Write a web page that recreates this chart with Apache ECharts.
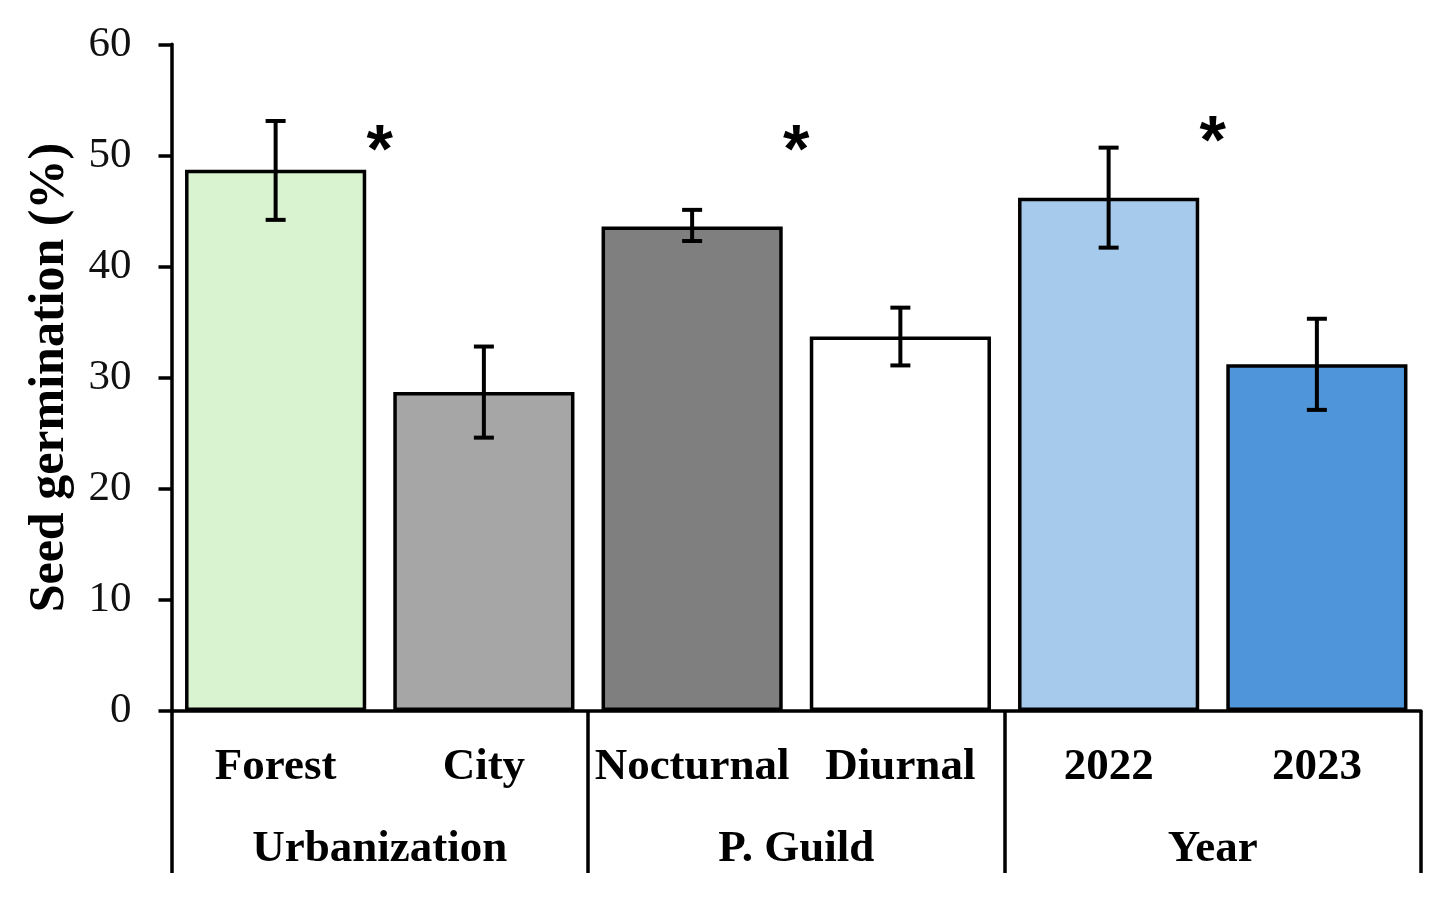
<!DOCTYPE html>
<html>
<head>
<meta charset="utf-8">
<script src="https://cdn.jsdelivr.net/npm/echarts@6/dist/echarts.min.js"></script>
<style>
html,body{margin:0;padding:0;background:#fff;}
#chart{width:1449px;height:915px;}
</style>
</head>
<body>
<div id="chart"></div>
<script>
// ---- data ----
var categories = ['Forest', 'City', 'Nocturnal', 'Diurnal', '2022', '2023'];
var groups = ['Urbanization', 'P. Guild', 'Year'];
var means = [48.7, 28.7, 43.6, 33.7, 46.2, 31.2];
var errLow = [44.2, 24.6, 42.3, 31.1, 41.7, 27.1];
var errHigh = [53.1, 32.8, 45.1, 36.3, 50.7, 35.3];
var sigMarks = ['*', '*', '*'];
var sigY = [51.3, 51.3, 52.1];
var yTicks = [0, 10, 20, 30, 40, 50, 60];
var barColors = ['#D9F2D0', '#A6A6A6', '#7F7F7F', '#FFFFFF', '#A6CAEC', '#4E95D9'];

var serif = '"Liberation Serif", "Times New Roman", serif';
var chart = echarts.init(document.getElementById('chart'), null, {renderer: 'canvas'});

var option = {
  animation: false,
  backgroundColor: '#fff',
  grid: {left: 171.5, right: 28, top: 44.3, bottom: 204, containLabel: false},
  xAxis: [
    {
      type: 'category',
      data: categories,
      position: 'bottom',
      axisLine: {show: true, lineStyle: {color: '#000', width: 3.5}},
      axisTick: {show: false},
      axisLabel: {fontFamily: serif, fontSize: 45, fontWeight: 'bold', color: '#000', margin: 34, interval: 0}
    },
    {
      type: 'category',
      data: groups,
      position: 'bottom',
      axisLine: {show: false},
      axisTick: {show: true, length: 162, lineStyle: {color: '#000', width: 3.5}},
      axisLabel: {fontFamily: serif, fontSize: 45, fontWeight: 'bold', color: '#000', margin: 116, interval: 0}
    }
  ],
  yAxis: {
    type: 'value',
    min: yTicks[0],
    max: yTicks[yTicks.length - 1],
    interval: 10,
    name: 'Seed germination (%)',
    nameLocation: 'middle',
    nameGap: 96,
    nameRotate: 90,
    nameTextStyle: {fontFamily: serif, fontSize: 50, fontWeight: 'bold', color: '#000'},
    axisLine: {show: true, lineStyle: {color: '#000', width: 3.5}},
    axisTick: {show: true, length: 13, lineStyle: {color: '#000', width: 3.5}},
    splitLine: {show: false},
    axisLabel: {fontFamily: serif, fontSize: 43, color: '#111', margin: 40}
  },
  series: [
    {
      type: 'bar',
      xAxisIndex: 0,
      barCategoryGap: '13%',
      data: means.map(function (v, i) {
        return {value: v, itemStyle: {color: barColors[i], borderColor: '#000', borderWidth: 3.5}};
      }),
      z: 2
    },
    {
      type: 'custom',
      xAxisIndex: 0,
      data: categories.map(function (c, i) { return [i, errLow[i], errHigh[i]]; }),
      encode: {x: 0, y: [1, 2]},
      renderItem: function (params, api) {
        var lo = api.coord([api.value(0), api.value(1)]);
        var hi = api.coord([api.value(0), api.value(2)]);
        var hw = 10;
        var st = {stroke: '#000', lineWidth: 4};
        return {
          type: 'group',
          children: [
            {type: 'line', shape: {x1: hi[0], y1: hi[1], x2: lo[0], y2: lo[1]}, style: st},
            {type: 'line', shape: {x1: hi[0] - hw, y1: hi[1], x2: hi[0] + hw, y2: hi[1]}, style: st},
            {type: 'line', shape: {x1: lo[0] - hw, y1: lo[1], x2: lo[0] + hw, y2: lo[1]}, style: st}
          ]
        };
      },
      z: 5
    },
    {
      type: 'custom',
      xAxisIndex: 1,
      data: groups.map(function (g, i) { return [i, sigY[i]]; }),
      encode: {x: 0, y: 1},
      renderItem: function (params, api) {
        var p = api.coord([api.value(0), api.value(1)]);
        return {
          type: 'text',
          x: p[0],
          y: p[1] - 22,
          style: {
            text: sigMarks[params.dataIndex],
            fontFamily: '"Liberation Sans", Arial, sans-serif',
            fontSize: 68,
            fontWeight: 'bold',
            fill: '#000',
            align: 'center',
            verticalAlign: 'top'
          }
        };
      },
      z: 6
    }
  ]
};
chart.setOption(option);
</script>
</body>
</html>
